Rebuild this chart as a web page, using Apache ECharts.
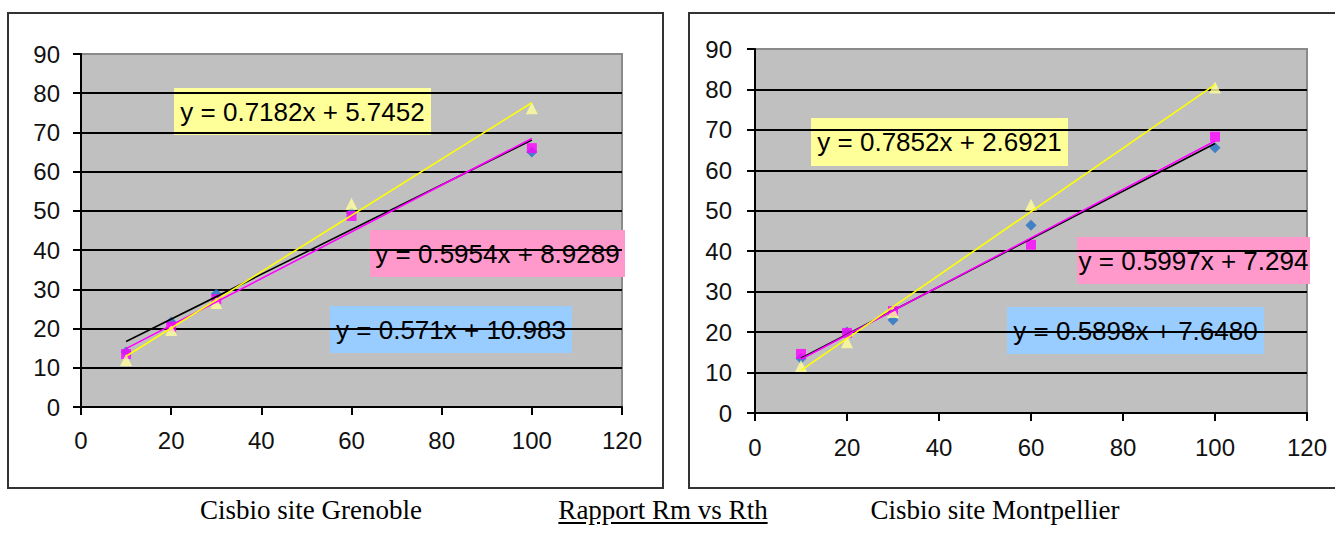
<!DOCTYPE html>
<html>
<head>
<meta charset="utf-8">
<script src="https://cdn.jsdelivr.net/npm/echarts@6/dist/echarts.min.js"></script>
<style>
  html, body { margin: 0; padding: 0; background: #fff; }
  #chart { position: absolute; left: 0; top: 0; width: 1335px; height: 534px; }
  .caption {
    position: absolute; top: 495px; font-family: "Liberation Serif", "Times New Roman", serif;
    font-size: 27px; color: #000; white-space: nowrap; transform: translateX(-50%);
  }
  .caption.title { text-decoration: underline; text-underline-offset: 3px; }
</style>
</head>
<body>
<div id="chart"></div>
<div class="caption" style="left:311px">Cisbio site Grenoble</div>
<div class="caption title" style="left:663px">Rapport Rm vs Rth</div>
<div class="caption" style="left:995px">Cisbio site Montpellier</div>
<script>
// Theoretical ratio (x) for each standard
const xValues = [10, 20, 30, 60, 100];

// Measured ratio, Grenoble site
const grenobleBlue = [14, 21.7, 28.8, 49.5, 65];
const grenoblePink = [13.5, 20.5, 27.5, 48.7, 66];
const grenobleYellow = [12, 19.6, 26.5, 51.8, 76.2];

// Measured ratio, Montpellier site
const montpellierBlue = [13.5, 20, 23, 46.4, 65.6];
const montpellierPink = [14.6, 19.8, 25.2, 41.6, 68.3];
const montpellierYellow = [11.6, 17.5, 25, 51.5, 80.5];

// Linear trendlines [slope, intercept], in order blue, pink, yellow
const grenobleTrends = [['0.571', '10.983'], ['0.5954', '8.9289'], ['0.7182', '5.7452']];
const montpellierTrends = [['0.5898', '7.6480'], ['0.5997', '7.294'], ['0.7852', '2.6921']];

// Axis ranges
const xAxisRange = [0, 120, 20];
const yAxisRange = [0, 90, 10];

const FONT = '"Liberation Sans", Arial, sans-serif';
const markerStyles = [
  { symbol: 'diamond', size: 11, color: '#2270C6' },
  { symbol: 'rect', size: 10, color: '#FF00FF' },
  { symbol: 'triangle', size: 12, color: '#FFFF99' }
];
const trendColors = ['#000000', '#FF00FF', '#FFFF00'];
const boxColors = ['#99CCFF', '#FF99CC', '#FFFF99'];

function pairs(ys) { return xValues.map((x, i) => [x, ys[i]]); }

function trendData(t) {
  const a = parseFloat(t[0]), b = parseFloat(t[1]);
  const x0 = Math.min(...xValues), x1 = Math.max(...xValues);
  return [[x0, a * x0 + b], [x1, a * x1 + b]];
}

function trendText(t) { return 'y = ' + t[0] + 'x + ' + t[1]; }

function makeAxes(gridIndex, yMargin, xMargin) {
  const axisLine = { show: true, onZero: false, lineStyle: { color: '#000', width: 2 } };
  const axisTick = { show: true, length: 8, lineStyle: { color: '#000', width: 2 } };
  return {
    x: {
      type: 'value', gridIndex, min: xAxisRange[0], max: xAxisRange[1], interval: xAxisRange[2],
      axisLine, axisTick, splitLine: { show: false },
      axisLabel: { fontFamily: FONT, fontSize: 24, color: '#111', margin: xMargin }
    },
    y: {
      type: 'value', gridIndex, min: yAxisRange[0], max: yAxisRange[1], interval: yAxisRange[2],
      axisLine, axisTick,
      splitLine: { show: true, showMaxLine: false, lineStyle: { color: '#000', width: 2 } },
      axisLabel: { fontFamily: FONT, fontSize: 24, color: '#111', margin: yMargin }
    }
  };
}

function makeSeries(idx, measured, trends) {
  const out = [];
  trends.forEach((t, k) => {
    out.push({
      type: 'line', xAxisIndex: idx, yAxisIndex: idx, data: trendData(t),
      showSymbol: false, symbol: 'none', silent: true, z: 4,
      lineStyle: { color: trendColors[k], width: 1.6 }
    });
  });
  measured.forEach((ys, k) => {
    const m = markerStyles[k];
    out.push({
      type: 'scatter', xAxisIndex: idx, yAxisIndex: idx, data: pairs(ys), z: 3,
      symbol: m.symbol, symbolSize: m.size, itemStyle: { color: m.color }
    });
  });
  return out;
}

function labelBox(x, y, w, h, fill, text) {
  return {
    type: 'group', x, y, z: 10,
    children: [
      { type: 'rect', shape: { x: 0, y: 0, width: w, height: h }, style: { fill } },
      { type: 'text', x: w / 2, y: h / 2,
        style: { text, font: '26px ' + FONT, fill: '#000', align: 'center', verticalAlign: 'middle' } }
    ]
  };
}

const left = makeAxes(0, 21, 21);
const right = makeAxes(1, 23, 22);

const chart = echarts.init(document.getElementById('chart'), null, { renderer: 'svg' });
chart.setOption({
  animation: false,
  backgroundColor: '#fff',
  grid: [
    { left: 81, top: 54, width: 541, height: 353, show: true, backgroundColor: '#C0C0C0', borderColor: '#8A8A8A', borderWidth: 2 },
    { left: 755, top: 49, width: 552, height: 364, show: true, backgroundColor: '#C0C0C0', borderColor: '#8A8A8A', borderWidth: 2 }
  ],
  xAxis: [left.x, right.x],
  yAxis: [left.y, right.y],
  series: [
    ...makeSeries(0, [grenobleBlue, grenoblePink, grenobleYellow], grenobleTrends),
    ...makeSeries(1, [montpellierBlue, montpellierPink, montpellierYellow], montpellierTrends)
  ],
  graphic: [
    { type: 'rect', shape: { x: 8, y: 13, width: 655, height: 475 }, style: { fill: 'none', stroke: '#333', lineWidth: 2 } },
    { type: 'rect', shape: { x: 689, y: 13, width: 660, height: 475 }, style: { fill: 'none', stroke: '#333', lineWidth: 2 } },
    labelBox(174, 88, 257, 47, boxColors[2], trendText(grenobleTrends[2])),
    labelBox(370, 230, 255, 47, boxColors[1], trendText(grenobleTrends[1])),
    labelBox(330, 306, 242, 47, boxColors[0], trendText(grenobleTrends[0])),
    labelBox(811, 118, 257, 48, boxColors[2], trendText(montpellierTrends[2])),
    labelBox(1077, 237, 233, 47, boxColors[1], trendText(montpellierTrends[1])),
    labelBox(1007, 307, 257, 47, boxColors[0], trendText(montpellierTrends[0]))
  ]
});
</script>
</body>
</html>
